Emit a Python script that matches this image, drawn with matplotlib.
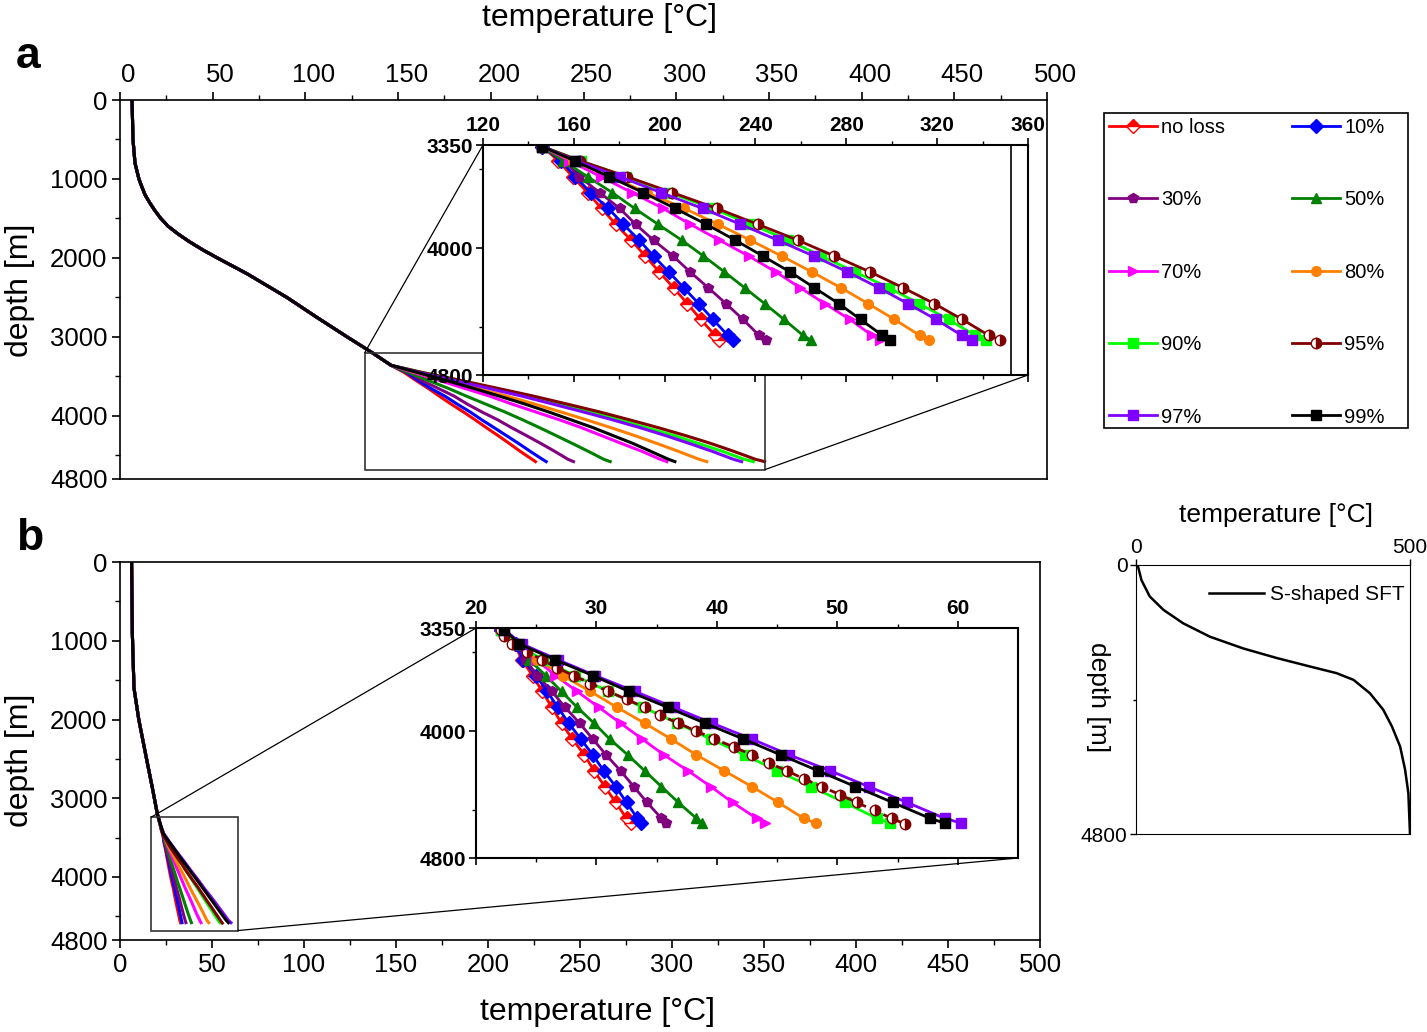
import matplotlib
matplotlib.use('Agg')
import matplotlib.pyplot as plt
from matplotlib.patches import Rectangle, ConnectionPatch
from matplotlib.transforms import ScaledTranslation

plt.rcParams['font.family'] = ['Liberation Sans', 'DejaVu Sans']

# ---- data ----
labels = ['no loss', '10%', '30%', '50%', '70%', '80%', '90%', '95%', '97%', '99%']
colors = ['#ff0000', '#0000ff', '#800080', '#008000', '#ff00ff',
          '#ff8000', '#00ff00', '#800000', '#8000ff', '#000000']
markers = ['D', 'D', 'p', '^', '>', 'o', 's', 'o', 's', 's']

# shared upper part of the profiles (main panels)
depth_top_a = [0, 500, 800, 1000, 1100, 1200, 1300, 1400, 1500, 1600, 1700, 1800, 1900,
               2000, 2200, 2500, 2750, 3000, 3200]
temp_top_a = [6.5, 7.0, 8.1, 10.2, 11.8, 13.5, 16.0, 18.8, 22.0, 26.0, 31.5, 37.8, 44.8,
              52.5, 68.5, 90.0, 106.0, 122.5, 136.0]
depth_top_b = [0, 900, 1600, 2000, 2450, 2870, 3200]
temp_top_b = [6.3, 6.7, 7.6, 10.2, 14.0, 17.6, 20.3]

# zoomed section 3350-4800 m
depth_zoom = [3360, 3450, 3550, 3650, 3750, 3850, 3950, 4050, 4150, 4250, 4350, 4450, 4550, 4580]

a_noloss = [146.2, 153.2, 159.5, 166.1, 172.2, 178.5, 185.2, 191.5, 197.6, 203.9, 210.0, 215.9, 222.2, 224.1]
a_10 = [146.2, 154.5, 160.6, 167.4, 175.2, 181.8, 188.8, 195.1, 201.8, 208.4, 215.0, 221.3, 227.8, 229.9]
a_30 = [146.2, 156.1, 162.4, 171.4, 180.2, 187.2, 195.1, 203.7, 211.2, 219.2, 227.0, 234.5, 241.6, 244.6]
a_50 = [146.2, 155.3, 166.1, 176.9, 186.8, 197.1, 207.5, 217.1, 226.3, 235.2, 244.0, 252.6, 260.9, 264.4]
a_70 = [146.2, 158.0, 171.9, 185.6, 199.3, 211.3, 224.1, 237.0, 248.9, 259.7, 270.5, 281.6, 291.3, 295.0]
a_80 = [146.2, 159.5, 176.1, 192.1, 208.7, 223.5, 237.7, 251.5, 264.8, 277.6, 289.6, 301.2, 312.3, 316.5]
a_90 = [146.2, 163.0, 183.0, 202.0, 221.0, 238.0, 254.5, 268.9, 283.8, 298.8, 312.0, 325.0, 336.6, 341.6]
a_95 = [146.2, 162.8, 183.5, 203.4, 223.0, 241.0, 258.6, 274.7, 290.4, 305.0, 318.7, 331.1, 342.7, 347.7]
a_97 = [146.2, 161.1, 180.2, 198.4, 216.7, 233.3, 249.8, 265.6, 280.5, 294.3, 307.1, 319.5, 330.8, 335.3]
a_99 = [146.2, 160.3, 175.6, 190.5, 204.6, 218.3, 231.1, 243.2, 255.2, 265.9, 276.7, 286.3, 295.8, 299.3]

b_noloss = [22.1, 23.2, 23.8, 24.7, 25.5, 26.3, 27.1, 28.0, 29.0, 29.8, 30.7, 31.6, 32.5, 32.9]
b_10 = [22.1, 23.3, 23.9, 25.0, 25.9, 26.8, 27.7, 28.7, 29.7, 30.6, 31.6, 32.5, 33.4, 33.7]
b_30 = [22.1, 23.5, 24.1, 25.1, 26.3, 27.4, 28.6, 29.7, 30.8, 32.0, 33.1, 34.2, 35.4, 35.8]
b_50 = [22.1, 23.6, 24.4, 25.8, 27.1, 28.4, 29.8, 31.1, 32.6, 34.0, 35.4, 36.8, 38.3, 38.8]
b_70 = [22.1, 23.5, 25.0, 26.6, 28.4, 30.2, 32.0, 33.8, 35.6, 37.6, 39.5, 41.3, 43.3, 44.0]
b_80 = [22.1, 23.6, 25.1, 27.2, 29.5, 31.7, 34.0, 36.2, 38.3, 40.6, 42.9, 45.1, 47.2, 48.2]
b_90 = [22.1, 23.2, 25.6, 28.2, 31.0, 33.9, 36.7, 39.5, 42.3, 45.0, 47.8, 50.6, 53.3, 54.4]
b_97 = [22.35, 23.8, 26.8, 29.9, 33.2, 36.4, 39.6, 42.9, 46.0, 49.4, 52.6, 55.8, 58.9, 60.3]
b_99 = [22.35, 23.6, 26.55, 29.7, 32.7, 35.9, 39.0, 42.2, 45.3, 48.4, 51.5, 54.6, 57.7, 58.9]
# 95% in panel b has denser samples
depth_b95 = [3360, 3400, 3450, 3500, 3550, 3600, 3650, 3700, 3750, 3800, 3850, 3900, 3950,
             4000, 4050, 4100, 4150, 4200, 4250, 4300, 4350, 4400, 4450, 4500, 4550, 4585]
b_95 = [22.1, 22.35, 23.0, 24.2, 25.5, 26.7, 28.1, 29.5, 31.0, 32.5, 34.0, 35.3, 36.8,
        38.3, 39.8, 41.4, 42.9, 44.3, 45.8, 47.2, 48.7, 50.2, 51.6, 53.1, 54.5, 55.6]

temps_a = [a_noloss, a_10, a_30, a_50, a_70, a_80, a_90, a_95, a_97, a_99]
temps_b = [b_noloss, b_10, b_30, b_50, b_70, b_80, b_90, b_95, b_97, b_99]
depths_b = [depth_zoom] * 7 + [depth_b95] + [depth_zoom] * 2

# S-shaped surface formation temperature
s_depth = [0, 270, 560, 800, 1040, 1280, 1490, 1660, 1810, 1930, 2050, 2290, 2580, 2880, 3240, 3650, 4070, 4800]
s_temp = [3, 10, 25, 50, 86, 135, 196, 257, 317, 366, 397, 427, 451, 467, 482, 491, 497, 500]

W, H = 1427, 1032
fig = plt.figure(figsize=(W / 100, H / 100), dpi=100)


def box(l, t, r, b):
    return [l / W, 1 - b / H, (r - l) / W, (b - t) / H]


def style_main(ax, top):
    ax.set_xlim(0, 500)
    ax.set_ylim(4800, 0)
    ax.set_xticks(range(0, 501, 50))
    ax.set_xticks(range(25, 500, 50), minor=True)
    ax.set_yticks([0, 1000, 2000, 3000, 4000, 4800])
    ax.set_yticks([500, 1500, 2500, 3500, 4500], minor=True)
    if top:
        ax.xaxis.tick_top()
    ax.tick_params(which='major', length=6, width=1.2, labelsize=18.5, pad=3)
    ax.tick_params(which='minor', length=3.5, width=1.0)
    for s in ax.spines.values():
        s.set_linewidth(1.2)


def style_inset(ax, xlim, xmaj, xmin):
    ax.set_xlim(*xlim)
    ax.set_ylim(4800, 3350)
    ax.set_xticks(xmaj)
    ax.set_xticks(xmin, minor=True)
    ax.set_yticks([3350, 4000, 4800])
    ax.set_yticks([3500, 4500], minor=True)
    ax.tick_params(axis='x', which='both', top=True, bottom=True, labeltop=True, labelbottom=False)
    ax.tick_params(which='major', length=5, width=1.2, labelsize=15, pad=2)
    ax.tick_params(which='minor', length=3, width=1.0)
    for lab in ax.get_xticklabels() + ax.get_yticklabels():
        lab.set_fontweight('bold')
    for s in ax.spines.values():
        s.set_linewidth(1.5)


def mk_kw(i):
    kw = dict(color=colors[i], marker=markers[i], markersize=7, mec=colors[i], mew=1)
    if i == 0:
        kw.update(fillstyle='top', markerfacecoloralt='white', markersize=7)
    if i == 7:
        kw.update(fillstyle='right', markerfacecoloralt='white', markersize=7.5)
    return kw


# ---- panel a ----
ax_a = fig.add_axes(box(120, 100, 1047, 479))
for i in range(10):
    ax_a.plot(temp_top_a + temps_a[i], depth_top_a + depth_zoom, color=colors[i], lw=2.2)
style_main(ax_a, top=True)
shift = ScaledTranslation(8 / 100, 0, fig.dpi_scale_trans)
for lab in ax_a.get_xticklabels():
    lab.set_transform(lab.get_transform() + shift)
ax_a.add_patch(Rectangle((132, 3200), 216, 1480, fill=False, ec='#333333', lw=1.2, zorder=5))

ins_a = fig.add_axes(box(483, 145, 1028, 375))
handles = []
for i in range(10):
    h, = ins_a.plot(temps_a[i], depth_zoom, lw=2, label=labels[i], **mk_kw(i))
    handles.append(h)
ins_a.axvline(352.5, color='k', lw=1.2)
style_inset(ins_a, (120, 360), range(120, 361, 40), range(140, 360, 40))

for xa, ya, xb, yb in [(132, 3200, 0, 1), (348, 4680, 1, 0)]:
    fig.add_artist(ConnectionPatch((xa, ya), (xb, yb), coordsA=ax_a.transData,
                                   coordsB=ins_a.transAxes, color='k', lw=0.9))

# ---- panel b ----
ax_b = fig.add_axes(box(120, 562, 1040, 940))
for i in range(10):
    ax_b.plot(temp_top_b + temps_b[i], depth_top_b + depths_b[i], color=colors[i], lw=2.2)
style_main(ax_b, top=False)
ax_b.add_patch(Rectangle((17, 3240), 47, 1440, fill=False, ec='#333333', lw=1.2, zorder=5))

ins_b = fig.add_axes(box(476, 628, 1018, 858))
for i in range(10):
    ls = '--' if i == 7 else '-'
    ins_b.plot(temps_b[i], depths_b[i], lw=2, ls=ls, **mk_kw(i))
style_inset(ins_b, (20, 65), range(20, 61, 10), range(25, 65, 10))

for xa, ya, xb, yb in [(17, 3240, 0, 1), (64, 4680, 1, 0)]:
    fig.add_artist(ConnectionPatch((xa, ya), (xb, yb), coordsA=ax_b.transData,
                                   coordsB=ins_b.transAxes, color='k', lw=0.9))

# ---- legend ----
order = [0, 2, 4, 6, 8, 1, 3, 5, 7, 9]
lb = box(1104, 113, 1408, 428)
fig.add_artist(Rectangle((lb[0], lb[1]), lb[2], lb[3], transform=fig.transFigure,
                         fill=False, ec='k', lw=1.2))
fig.legend([handles[k] for k in order], [labels[k] for k in order], ncol=2,
           loc='upper left', bbox_to_anchor=(lb[0], lb[1] + lb[3]),
           fontsize=14.5, labelspacing=2.65, handlelength=2.4, handletextpad=0.2,
           borderpad=0.25, borderaxespad=0, frameon=False, columnspacing=3.3)

# ---- small panel ----
ax_s = fig.add_axes(box(1136, 565, 1410, 834))
ax_s.plot(s_temp, s_depth, color='k', lw=1.8, label='S-shaped SFT')
ax_s.set_xlim(0, 500)
ax_s.set_ylim(4800, 0)
ax_s.set_xticks([0, 500])
ax_s.set_yticks([0, 4800])
ax_s.set_yticks([2400], minor=True)
ax_s.xaxis.tick_top()
ax_s.tick_params(which='both', labelsize=15, length=4, width=1, pad=2)
ax_s.tick_params(which='minor', length=2.5)
ax_s.legend(loc='center right', bbox_to_anchor=(1.01, 0.89), frameon=False, fontsize=15,
            handlelength=2.6, handletextpad=0.3, borderaxespad=0)

# ---- texts ----
fig.text(600 / W, 1 - 18 / H, 'temperature [°C]', ha='center', va='center', fontsize=23)
fig.text(598 / W, 1 - 1012 / H, 'temperature [°C]', ha='center', va='center', fontsize=23)
fig.text(20 / W, 1 - 290 / H, 'depth [m]', ha='center', va='center', rotation=90, fontsize=23)
fig.text(20 / W, 1 - 760 / H, 'depth [m]', ha='center', va='center', rotation=90, fontsize=23)
fig.text(1276 / W, 1 - 515 / H, 'temperature [°C]', ha='center', va='center', fontsize=19)
fig.text(1098 / W, 1 - 697 / H, 'depth [m]', ha='center', va='center', rotation=-90, fontsize=19)
fig.text(28 / W, 1 - 57 / H, 'a', ha='center', va='center', fontsize=32, fontweight='bold')
fig.text(30 / W, 1 - 538 / H, 'b', ha='center', va='center', fontsize=32, fontweight='bold')

fig.savefig('out.png', dpi=100)
